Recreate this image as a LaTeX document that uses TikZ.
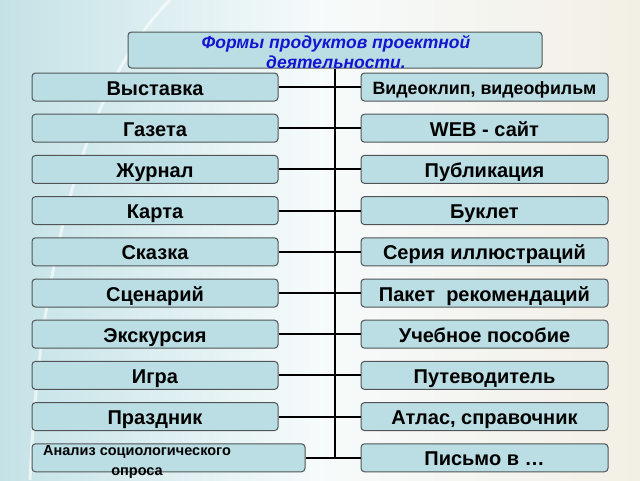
\documentclass[tikz,border=0pt]{standalone}
\usepackage{fontspec}
\setmainfont{Liberation Sans}
\usetikzlibrary{positioning}
\definecolor{paperLeft}{RGB}{196,226,230}
\definecolor{paperRight}{RGB}{243,239,229}
\definecolor{formFill}{RGB}{186,222,228}
\definecolor{formEdge}{RGB}{80,84,86}
\definecolor{titleInk}{RGB}{20,20,210}
\tikzstyle{formShape}=[rectangle,rounded corners=3.5pt,draw=formEdge,fill=formFill,line width=1pt,minimum height=28pt,inner sep=0pt]
\tikzstyle{formLeft}=[formShape,minimum width=246pt]
\tikzstyle{formRight}=[formShape,minimum width=247pt]
\tikzstyle{formLabel}=[font=\bfseries\fontsize{20}{20}\selectfont,text height=16pt,text depth=0pt]
\tikzstyle{formLabelSmall}=[font=\bfseries\fontsize{17.8}{17.8}\selectfont,text height=14pt,text depth=0pt]
\tikzstyle{branch}=[line width=2pt,draw=black]

\begin{document}
\begin{tikzpicture}[x=1pt,y=-1pt]
\newcommand{\Rowy}{41.2}
\useasboundingbox (0,0) rectangle (640,480);
\shade[left color=paperLeft,right color=paperRight,middle color=white!85!paperLeft] (0,0) rectangle (640,480);
\draw[white,line width=3pt,opacity=.6] (30,480) .. controls (40,250) and (90,80) .. (170,0);
% title
\node[formShape,minimum width=414pt,minimum height=36pt] 
        (title) at (335,50) {};
\node[align=center,text=titleInk,font=\bfseries\itshape\fontsize{17.5}{20}\selectfont] 
        (titleText) at (336,52) {Формы продуктов проектной\\деятельности.};
% left column
        \foreach \lbl [count=\i] in {Выставка,Газета,Журнал,Карта,Сказка,Сценарий,Экскурсия,Игра,Праздник} {
                \node[formLeft,formLabel] 
                (l\i) at (155,{87+\Rowy*(\i-1)}) 
                {\lbl};
		}
        \node[formShape,minimum width=273pt] 
        (l10) at (168.5,{87+\Rowy*9}) 
        {};
        \node[align=center,font=\bfseries\fontsize{14.5}{20}\selectfont] 
        (l10Text) at (137,{91+\Rowy*9}) 
        {Анализ социологического\\опроса};
% right column
        \node[formRight,formLabelSmall] 
        (r1) at (484.5,87) 
        {Видеоклип, видеофильм};
        \foreach \lbl [count=\i from 2] in {WEB - сайт,Публикация,Буклет,Серия иллюстраций,Пакет\ \ рекомендаций,Учебное пособие,Путеводитель,{Атлас, справочник},Письмо в …} {
                \node[formRight,formLabel] 
                (r\i) at (484.5,{87+\Rowy*(\i-1)}) 
                {\lbl};
		}
% connectors
        \draw[branch] (title.south) -- (title.south |- l10.east);
        \foreach \i in {1,...,10} {
                \draw[branch] (l\i.east) -- (r\i.west);
		}
\end{tikzpicture}
\end{document}
